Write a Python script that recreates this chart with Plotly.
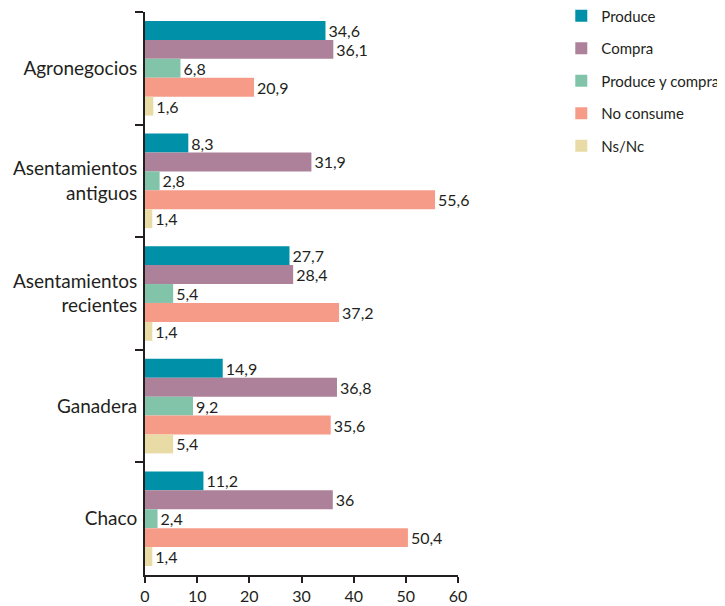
import plotly.graph_objects as go

categories = ["Agronegocios", "Asentamientos<br>antiguos", "Asentamientos<br>recientes", "Ganadera", "Chaco"]
series_names = ["Produce", "Compra", "Produce y compra", "No consume", "Ns/Nc"]
produce = [34.6, 8.3, 27.7, 14.9, 11.2]
compra = [36.1, 31.9, 28.4, 36.8, 36]
produce_y_compra = [6.8, 2.8, 5.4, 9.2, 2.4]
no_consume = [20.9, 55.6, 37.2, 35.6, 50.4]
ns_nc = [1.6, 1.4, 1.4, 5.4, 1.4]
x_ticks = [0, 10, 20, 30, 40, 50, 60]

colors = ["#0091A8", "#AC8199", "#82C4AA", "#F69B88", "#E9DBA6"]
series = [produce, compra, produce_y_compra, no_consume, ns_nc]

def fmt(v):
    s = f"{v:.1f}".rstrip("0").rstrip(".")
    return s.replace(".", ",")

FONT = "Lato"
fig = go.Figure()
for i, (name, vals) in enumerate(zip(series_names, series)):
    fig.add_trace(go.Bar(
        y=categories, x=vals, orientation="h", name=name,
        marker=dict(color=colors[i], line=dict(width=0)),
        text=[fmt(v) for v in vals], textposition="outside",
        constraintext="none",
        textfont=dict(size=16, color="#231F20", family=FONT),
        cliponaxis=False, legendgroup=name,
    ))

# page body adds an 8px offset; compensate
fig.update_layout(
    width=717, height=598,
    margin=dict(l=137, r=267, t=4, b=31, autoexpand=False),
    plot_bgcolor="white", paper_bgcolor="white",
    barmode="group", bargap=0.16, bargroupgap=0,
    font=dict(family=FONT, color="#231F20"),
    showlegend=True,
    legend=dict(x=1.33, y=1.022, xanchor="left", yanchor="top",
                font=dict(size=15, family=FONT, color="#231F20"),
                traceorder="grouped", tracegroupgap=10,
                itemwidth=30),
)
fig.update_xaxes(range=[0, 60], tickvals=x_ticks, ticktext=[str(t) for t in x_ticks],
                 showgrid=False, zeroline=False, showline=True, linecolor="#231F20", linewidth=2,
                 ticks="outside", ticklen=6, tickwidth=2, tickcolor="#231F20", automargin=False,
                 tickfont=dict(size=16, family=FONT, color="#231F20"))
fig.update_yaxes(autorange="reversed", showgrid=False, zeroline=False, showline=True,
                 linecolor="#231F20", linewidth=2, ticks="outside", ticklen=8, tickwidth=2,
                 tickcolor="#231F20", tickson="boundaries", automargin=False,
                 ticklabelstandoff=2,
                 tickfont=dict(size=19, family=FONT, color="#231F20"))

fig.write_html("out.html")
